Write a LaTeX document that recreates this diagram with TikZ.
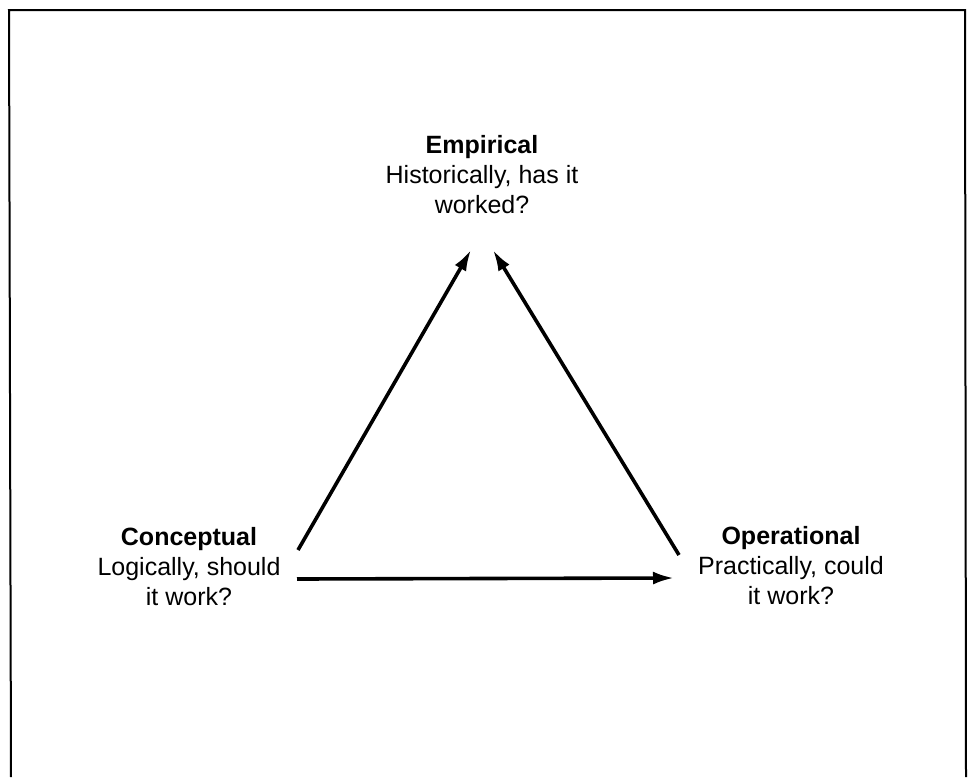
\documentclass[tikz,border=0pt]{standalone}
\usepackage{fontspec}
\setmainfont{Liberation Sans}
\usetikzlibrary{arrows.meta}

\tikzset{
  lbl/.style={align=center, inner sep=0pt, font=\fontsize{12.5}{15}\selectfont},
  arr/.style={line width=1.8pt, -{Latex[length=10.5pt,width=6.5pt]}}
}

\begin{document}
\begin{tikzpicture}[x=0.5pt,y=-0.5pt]
            \useasboundingbox (0,0) rectangle (975,777);
            \draw[line width=1pt] (11,777) -- (9,10) -- (965,10) -- (966,777);
            \draw (482,175) node[lbl] (emp) {\textbf{Empirical}\\Historically, has it\\worked?};
            \draw (189,567) node[lbl] (conc) {\textbf{Conceptual}\\Logically, should\\it work?};
            \draw (791,566) node[lbl] (oper) {\textbf{Operational}\\Practically, could\\it work?};
            \coordinate (concT) at (298,550);
            \coordinate (concB) at (297,579);
            \coordinate (operT) at (679,555);
            \coordinate (operB) at (674,578);
            \coordinate (empL) at (471,250);
            \coordinate (empR) at (493,250);
            \draw[arr] (concT) -- (empL);
            \draw[arr] (operT) -- (empR);
            \draw[arr] (concB) -- (operB);
\end{tikzpicture}
\end{document}
